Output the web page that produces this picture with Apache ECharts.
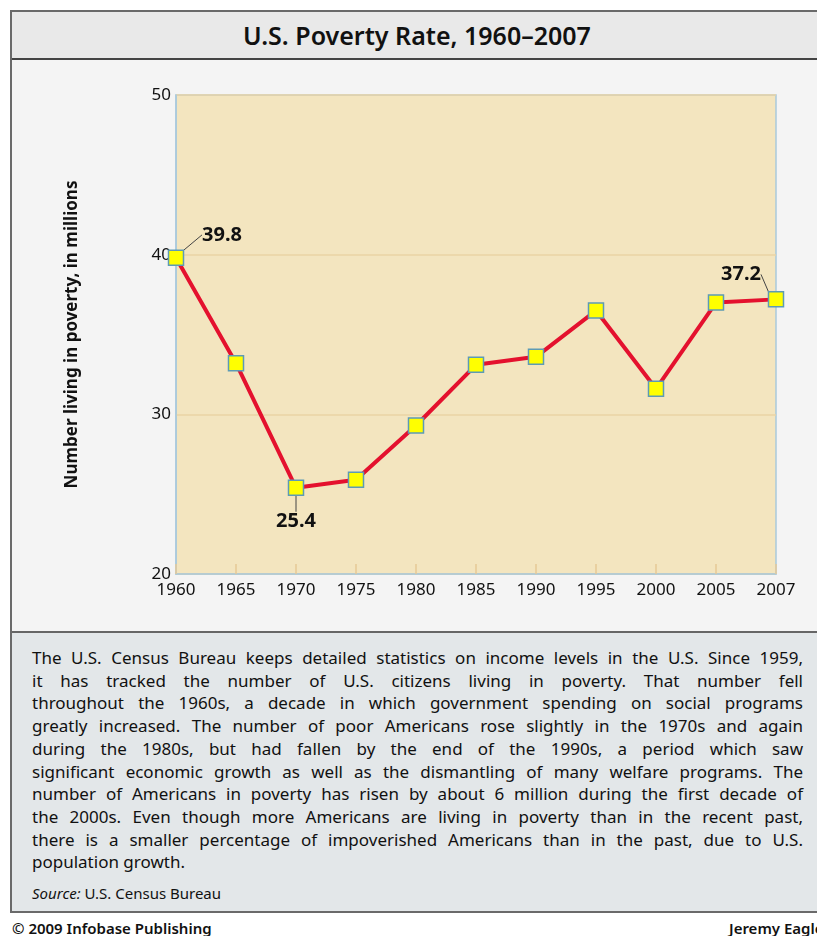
<!DOCTYPE html>
<html>
<head>
<meta charset="utf-8">
<script src="https://cdn.jsdelivr.net/npm/echarts@6/dist/echarts.min.js"></script>
<style>
  body { margin: 0; width: 817px; height: 936px; overflow: hidden; background: #fff; font-family: "Noto Sans", sans-serif; position: relative; }
  .frame { position: absolute; left: 10px; top: 10px; width: 810px; border: 2px solid #6a6a6a; }
  .title { height: 46px; background: #e9e9e9; border-bottom: 2px solid #444; text-align: center; font-size: 25px; font-weight: 600; line-height: 46px; color: #111; font-stretch: semi-condensed; }
  .band { height: 571px; background: #f4f4f4; border-bottom: 2px solid #666; }
  .text { height: 278px; background: #e3e7e9; box-sizing: border-box; padding: 14px 19px 0 20px; color: #111; font-size: 17px; line-height: 22.7px; font-stretch: semi-condensed; }
  .text span { display: block; text-align: justify; text-align-last: justify; white-space: nowrap; }
  .text span.last { text-align-last: left; }
  .source { font-size: 15px; margin-top: 8px; }
  .foot { position: absolute; top: 918px; font-size: 15px; font-weight: 600; color: #111; font-stretch: semi-condensed; white-space: nowrap; }
  #chart { position: absolute; left: 0; top: 0; width: 817px; height: 640px; }
</style>
</head>
<body>
<div class="frame">
  <div class="title">U.S. Poverty Rate, 1960–2007</div>
  <div class="band"></div>
  <div class="text">
    <span>The U.S. Census Bureau keeps detailed statistics on income levels in the U.S. Since 1959,</span>
    <span>it has tracked the number of U.S. citizens living in poverty. That number fell</span>
    <span>throughout the 1960s, a decade in which government spending on social programs</span>
    <span>greatly increased. The number of poor Americans rose slightly in the 1970s and again</span>
    <span>during the 1980s, but had fallen by the end of the 1990s, a period which saw</span>
    <span>significant economic growth as well as the dismantling of many welfare programs. The</span>
    <span>number of Americans in poverty has risen by about 6 million during the first decade of</span>
    <span>the 2000s. Even though more Americans are living in poverty than in the recent past,</span>
    <span>there is a smaller percentage of impoverished Americans than in the past, due to U.S.</span>
    <span class="last">population growth.</span>
    <div class="source"><i>Source:</i> U.S. Census Bureau</div>
  </div>
</div>
<div class="foot" style="left:12px;">© 2009 Infobase Publishing</div>
<div class="foot" style="left:729px;">Jeremy Eagle</div>
<div id="chart"></div>
<script>
  var years = ['1960', '1965', '1970', '1975', '1980', '1985', '1990', '1995', '2000', '2005', '2007'];
  var poor = [39.8, 33.2, 25.4, 25.9, 29.3, 33.1, 33.6, 36.5, 31.6, 37.0, 37.2];
  var labelled = [0, 2, 10];
  var labelShift = { 0: [46, -23], 2: [0, 34], 10: [-35, -25] };
  var yTicks = { min: 20, max: 50, interval: 10 };

  var chart = echarts.init(document.getElementById('chart'), null, { renderer: 'canvas' });

  var pts = [];
  for (var i = 0; i < poor.length; i++) {
    var p = { value: poor[i] };
    if (labelled.indexOf(i) >= 0) {
      p.label = { show: true };
    }
    pts.push(p);
  }

  var option = {
    backgroundColor: 'transparent',
    grid: {
      left: 176, right: 41, top: 95, bottom: 66,
      show: true, backgroundColor: '#f3e5bf', borderColor: '#a9c9dc', borderWidth: 1.5
    },
    xAxis: {
      type: 'category',
      data: years,
      boundaryGap: false,
      axisLine: { lineStyle: { color: '#a9c9dc', width: 1.5 } },
      axisTick: { inside: true, length: 10, lineStyle: { color: '#e6c996', width: 1.5 } },
      axisLabel: { color: '#111', fontSize: 17, fontFamily: 'Noto Sans', margin: 8 }
    },
    yAxis: {
      type: 'value',
      min: yTicks.min, max: yTicks.max, interval: yTicks.interval,
      name: 'Number living in poverty, in millions',
      nameLocation: 'middle',
      nameGap: 95,
      nameTextStyle: { color: '#111', fontSize: 17, fontWeight: 'bold', fontFamily: 'Noto Sans' },
      axisLine: { show: true, lineStyle: { color: '#a9c9dc', width: 1.5 } },
      axisTick: { show: false },
      axisLabel: { color: '#111', fontSize: 17, fontFamily: 'Noto Sans', margin: 5 },
      splitLine: { lineStyle: { color: '#ead3a4', width: 1.5 } }
    },
    series: [{
      type: 'line',
      data: pts,
      symbol: 'rect',
      symbolSize: 15,
      lineStyle: { color: '#e4112e', width: 4 },
      itemStyle: { color: '#ffff00', borderColor: '#5d9bb5', borderWidth: 1.5 },
      label: {
        show: false, position: 'inside',
        color: '#111', fontSize: 20, fontWeight: 'bold', fontFamily: 'Noto Sans'
      },
      labelLine: { show: true, lineStyle: { color: '#444', width: 1 } },
      labelLayout: function (params) {
        var s = labelShift[params.dataIndex] || [0, 0];
        return { dx: s[0], dy: s[1] };
      },
      z: 3
    }]
  };

  chart.setOption(option);
</script>
</body>
</html>
